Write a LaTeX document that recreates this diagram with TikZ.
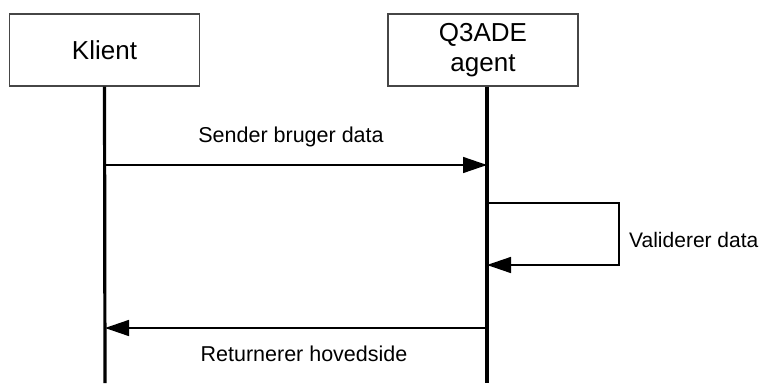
\documentclass[tikz,border=0pt]{standalone}
\usepackage{fontspec}
\setmainfont{Liberation Sans}
\usetikzlibrary{arrows.meta,positioning}
\definecolor{boxgray}{RGB}{70,70,70}

\begin{document}
\begin{tikzpicture}[x=1pt,y=-1pt, every node/.style={font=\fontsize{21.5}{26}\selectfont},
    actor/.style={draw=boxgray,line width=1.1pt,minimum width=190pt,minimum height=72pt,
      align=center,inner sep=0pt,font=\fontsize{26}{30}\selectfont},
    life/.style={line width=3.2pt},
    msg/.style={line width=1.5pt,-{Triangle[length=24pt,width=16pt]}}]
  \useasboundingbox (0,0) rectangle (763,383);
  \node[actor] (klient) at (104.5,50) {Klient};
  \node[actor] (agent) at (483,50) {Q3ADE\\agent};
  \coordinate (kend) at (105,383);
  \coordinate (aend) at (487,383);
  \draw[life] (klient.south) -- (kend);
  \draw[life] ([xshift=4pt]agent.south) -- (aend);
  \coordinate (s1) at (105,165);
  \coordinate (s2) at (487,165);
  \draw[msg] (s1) -- (s2);
  \node (sender) at (291,137) {Sender bruger data};
  \coordinate (v1) at (487,203);
  \coordinate (v2) at (619,203);
  \coordinate (v3) at (619,265);
  \coordinate (v4) at (487,265);
  \draw[msg] (v1) -- (v2) -- (v3) -- (v4);
  \node[anchor=west,inner sep=0pt,font=\fontsize{21}{25}\selectfont] (valider) at (629,240) {Validerer data};
  \coordinate (r1) at (487,328);
  \coordinate (r2) at (105,328);
  \draw[msg] (r1) -- (r2);
  \node (retur) at (304,354) {Returnerer hovedside};
\end{tikzpicture}
\end{document}
